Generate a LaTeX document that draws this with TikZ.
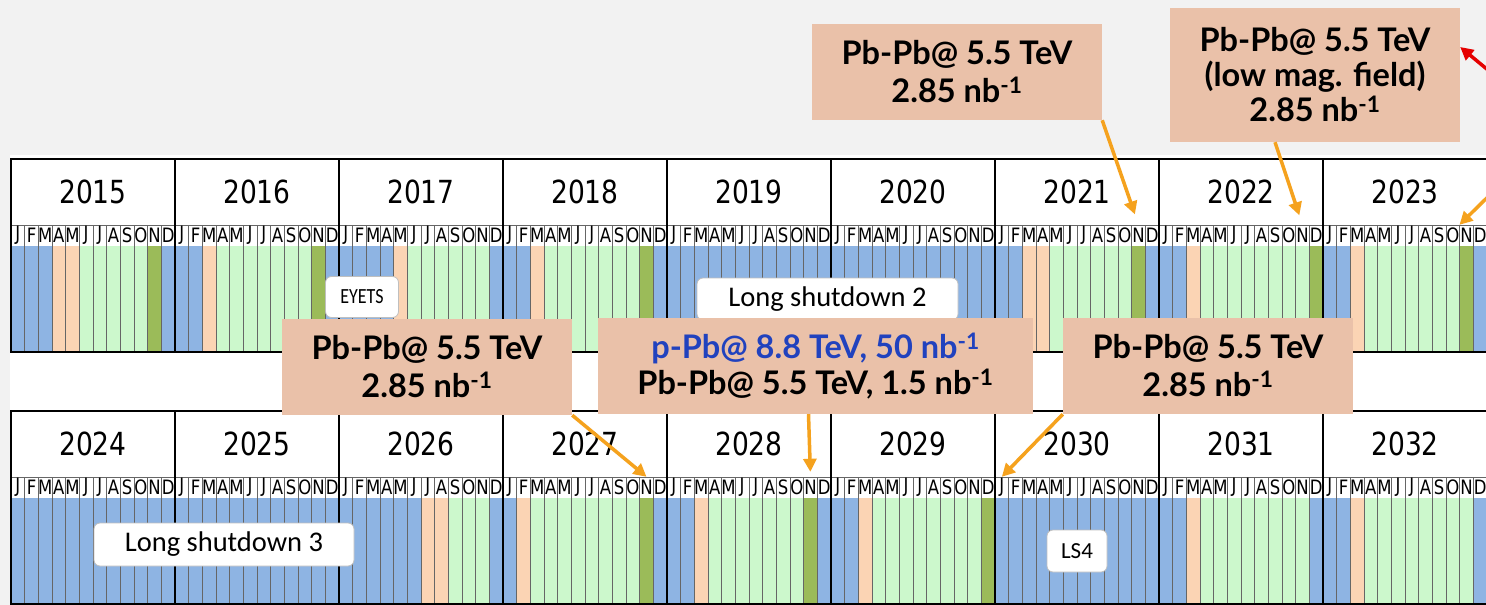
\documentclass[tikz,border=0pt]{standalone}
\usepackage{fontspec}
\usepackage{graphicx}
\usetikzlibrary{arrows.meta}

\newfontfamily\cellfont{DejaVu Sans}
\newfontfamily\calloutfont{Lato}
\newfontfamily\tagfont{Carlito}

\definecolor{slidegray}{HTML}{F2F2F2}
\definecolor{cb}{HTML}{8EB4E3}% shutdown
\definecolor{cp}{HTML}{FBD4B4}% commissioning
\definecolor{cg}{HTML}{CCF8CC}% proton physics
\definecolor{cd}{HTML}{9BBB59}% ion run
\definecolor{calloutfill}{HTML}{EAC1A9}
\definecolor{pointerorange}{HTML}{F5A21E}
\definecolor{ppbblue}{HTML}{2142BE}

\newcommand{\tall}[1]{\scalebox{1}[1.2]{#1}}
\newcommand{\monthletter}[1]{\ifcase#1\or J\or F\or M\or A\or M\or J\or J\or A\or S\or O\or N\or D\fi}

\begin{document}
\begin{tikzpicture}[x=1pt,y=-1pt,every node/.style={inner sep=0pt},
  yearlab/.style={font=\cellfont\fontsize{26.5}{26.5}\selectfont},
  monthlab/.style={minimum width=13.67pt,minimum height=21pt,font=\cellfont\fontsize{16.5}{16.5}\selectfont},
  cellline/.style={draw=black!60,line width=0.8pt},
  yearline/.style={draw=black,line width=1.6pt},
  callout/.style={fill=calloutfill,minimum width=290pt,minimum height=96pt,align=center,
    font=\calloutfont\bfseries\fontsize{32.5}{38}\selectfont},
  tag/.style={fill=white,draw=black!25,line width=0.8pt,rounded corners=6pt},
  pointer/.style={pointerorange,line width=3.5pt,-{Triangle[length=13pt,width=13pt]}}]
\clip (0,0) rectangle (1486,605);
\fill[slidegray] (0,0) rectangle (1486,605);
\fill[white] (10,155) rectangle (1486,605);

% calendar: one block per year
\foreach \yr/\pat [count=\k from 0] in {
  2015/{b,b,b,p,p,g,g,g,g,g,d,b}, 2016/{b,b,p,g,g,g,g,g,g,g,d,b},
  2017/{b,b,b,b,p,g,g,g,g,g,g,b}, 2018/{b,b,p,g,g,g,g,g,g,g,d,b},
  2019/{b,b,b,b,b,b,b,b,b,b,b,b}, 2020/{b,b,b,b,b,b,b,b,b,b,b,b},
  2021/{b,b,p,p,g,g,g,g,g,g,d,b}, 2022/{b,b,p,g,g,g,g,g,g,g,g,d},
  2023/{b,b,p,g,g,g,g,g,g,g,d,b},
  2024/{b,b,b,b,b,b,b,b,b,b,b,b}, 2025/{b,b,b,b,b,b,b,b,b,b,b,b},
  2026/{b,b,b,b,b,b,p,p,g,g,g,b}, 2027/{b,p,g,g,g,g,g,g,g,g,d,b},
  2028/{b,b,p,g,g,g,g,g,g,g,d,b}, 2029/{b,b,p,g,g,g,g,g,g,g,g,d},
  2030/{b,b,b,b,b,b,b,b,b,b,b,b}, 2031/{b,b,p,g,g,g,g,g,g,g,g,b},
  2032/{b,b,p,g,g,g,g,g,g,g,g,b}}{
  \pgfmathsetmacro\xl{11+164*mod(\k,9)}
  \pgfmathsetmacro\yt{159+252*int(\k/9)}
  \node[yearlab] (y\yr) at (\xl+82,\yt+33) {\tall{\yr}};
  \foreach \c [count=\m] in \pat {
    \pgfmathsetmacro\xm{\xl+(\m-1)*164/12}
    \fill[c\c] (\xm,\yt+87) rectangle ++(164/12,106);
    \draw[cellline] (\xm,\yt+66) rectangle ++(164/12,127);
    \node[monthlab] (m\yr-\m) at (\xm+164/24,\yt+76.5) {\tall{\monthletter{\m}}};
  }
  \draw[yearline] (\xl,\yt) rectangle ++(164,193);
}

% shutdown tags
\node[tag,minimum width=73pt,minimum height=41pt,font=\tagfont\fontsize{18}{18}\selectfont] (eyets) at (362,297) {\tall{EYETS}};
\node[tag,minimum width=261pt,minimum height=42pt,font=\tagfont\fontsize{28.5}{28.5}\selectfont] (ls2) at (827.5,299) {Long shutdown 2};
\node[tag,minimum width=260pt,minimum height=43pt,font=\tagfont\fontsize{28.5}{28.5}\selectfont] (ls3) at (224,544.5) {Long shutdown 3};
\node[tag,minimum width=60pt,minimum height=42pt,font=\tagfont\fontsize{23}{23}\selectfont] (ls4) at (1077,551) {LS4};

% heavy-ion runs
\node[callout] (pb21) at (957,72) {Pb-Pb@ 5.5 TeV\\2.85 nb\textsuperscript{-1}};
\node[callout,minimum height=134pt,font=\calloutfont\bfseries\fontsize{32.5}{35}\selectfont] (pb22) at (1315,75)
  {Pb-Pb@ 5.5 TeV\\(low mag. field)\\2.85 nb\textsuperscript{-1}};
\node[callout] (pb27) at (427,367) {Pb-Pb@ 5.5 TeV\\2.85 nb\textsuperscript{-1}};
\node[callout,minimum width=435pt,font=\calloutfont\bfseries\fontsize{32.5}{36}\selectfont] (ppb28) at (815.5,366)
  {\textcolor{ppbblue}{p-Pb@ 8.8 TeV, 50 nb\textsuperscript{-1}}\\Pb-Pb@ 5.5 TeV, 1.5 nb\textsuperscript{-1}};
\node[callout] (pb30) at (1208,366) {Pb-Pb@ 5.5 TeV\\2.85 nb\textsuperscript{-1}};

\coordinate (tail23) at (1502,183);
\coordinate (redtail) at (1500,80);

\draw[pointer,shorten >=11pt] (pb21.south east) -- (m2021-11.north);
\draw[pointer,shorten >=10pt] ([xshift=-40pt]pb22.south) -- (m2022-11.north);
\draw[pointer] (tail23) -- (m2023-11.north west);
\draw[pointer] (pb27.south east) -- (m2027-11.north);
\draw[pointer,shorten >=5pt] ([xshift=-7pt]ppb28.south) -- (m2028-11.north);
\draw[pointer] (pb30.south west) -- (m2030-1.north);
\draw[red!90!black,line width=3.5pt,-{Triangle[length=13pt,width=13pt]}] (redtail) -- ([yshift=28pt]pb22.east);
\end{tikzpicture}
\end{document}
